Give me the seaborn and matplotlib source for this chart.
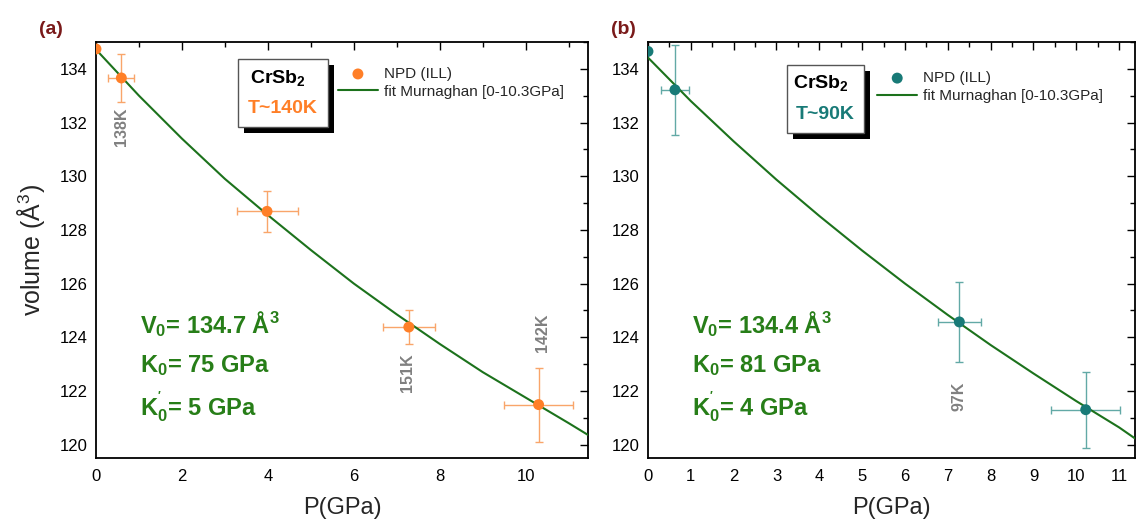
import numpy as np
import pandas as pd
import matplotlib
matplotlib.use('Agg')
import matplotlib.pyplot as plt
import matplotlib.patches as patches
from matplotlib.ticker import MultipleLocator
import seaborn as sns

# measured points (NPD, ILL)
p_140 = [0.0, 0.59, 3.98, 7.28, 10.30]
v_140 = [134.74, 133.66, 128.69, 124.38, 121.49]
perr_140 = [0.0, 0.30, 0.71, 0.61, 0.80]
verr_140 = [0.0, 0.89, 0.76, 0.65, 1.38]

p_90 = [0.0, 0.63, 7.27, 10.22]
v_90 = [134.65, 133.22, 124.57, 121.30]
perr_90 = [0.0, 0.33, 0.50, 0.80]
verr_90 = [0.0, 1.68, 1.50, 1.41]

# Murnaghan fit curves
fit_p_140 = [0, 1, 2, 3, 4, 5, 6, 7, 8, 9, 10, 11, 11.45]
fit_v_140 = [134.72, 133.00, 131.40, 129.90, 128.55, 127.25, 126.00, 124.85,
             123.75, 122.70, 121.75, 120.80, 120.36]
fit_p_90 = [0, 1, 2, 3, 4, 5, 6, 7, 8, 9, 10, 11, 11.37]
fit_v_90 = [134.42, 132.80, 131.30, 129.87, 128.52, 127.23, 126.00, 124.83,
            123.71, 122.65, 121.62, 120.64, 120.23]

# point labels (temperature at each pressure)
lab_140 = ['138K', '151K', '142K']
lab_140_pos = [(0.59, 131.85), (7.26, 122.67), (10.38, 124.15)]
lab_90 = ['97K']
lab_90_pos = [(7.27, 121.81)]

sns.set_theme(style='white')
plt.rcParams['font.family'] = ['Liberation Sans', 'DejaVu Sans']
plt.rcParams['mathtext.fontset'] = 'custom'
plt.rcParams['mathtext.rm'] = 'Liberation Sans'
plt.rcParams['mathtext.bf'] = 'Liberation Sans:bold'
plt.rcParams['mathtext.it'] = 'Liberation Sans:italic'

ORANGE = '#FF7F27'
ORANGE_ERR = '#F9A56A'
TEAL = '#187A77'
TEAL_ERR = '#62A9A6'
GREEN_LINE = '#1C721C'
GREEN_TXT = '#277E18'
GRAY = '#808080'
MAROON = '#7A1A1A'

fig = plt.figure(figsize=(11.36, 5.25), dpi=100)
ax1 = fig.add_axes([0.0845, 0.1276, 0.4331, 0.7924])
ax2 = fig.add_axes([0.5704, 0.1276, 0.4287, 0.7924])


def draw_panel(ax, p, v, perr, verr, fp, fv, col, ecol, temp, params,
               labels, label_pos, box, leg_anchor, xmax, xmajor, xminor):
    ax.errorbar(p, v, xerr=perr, yerr=verr, fmt='none', ecolor=ecol,
                elinewidth=1, capsize=3, capthick=1, zorder=2)
    sns.lineplot(x=fp, y=fv, ax=ax, color=GREEN_LINE, linewidth=1.5,
                 label='fit Murnaghan [0-10.3GPa]', zorder=3)
    sns.scatterplot(x=p, y=v, ax=ax, color=col, s=62, edgecolor='none',
                    label='NPD (ILL)', zorder=4, clip_on=True)

    ax.set_xlim(0, xmax)
    ax.set_ylim(119.5, 135.0)
    ax.xaxis.set_major_locator(MultipleLocator(xmajor))
    ax.xaxis.set_minor_locator(MultipleLocator(xminor))
    ax.yaxis.set_major_locator(MultipleLocator(2))
    ax.yaxis.set_minor_locator(MultipleLocator(1))
    ax.tick_params(which='both', direction='in', top=True, right=True,
                   colors='black', labelsize=12)
    ax.tick_params(which='major', length=6, width=1)
    ax.tick_params(which='minor', length=3.5, width=1)
    ax.tick_params(axis='x', pad=8)
    ax.tick_params(axis='y', pad=6)
    for s in ax.spines.values():
        s.set_color('black')
        s.set_linewidth(1.3)
    ax.set_xlabel('P(GPa)', fontsize=17, labelpad=9)
    ax.set_ylabel('')

    # legend entries
    handles, lbls = ax.get_legend_handles_labels()
    order = [1, 0]
    ax.legend([handles[i] for i in order], [lbls[i] for i in order],
              loc='upper left', bbox_to_anchor=leg_anchor, frameon=False,
              fontsize=11, handlelength=2.6, handletextpad=0.4,
              labelspacing=0.25, borderpad=0, borderaxespad=0)

    # sample box with shadow
    x0, y0, x1, y1 = box
    sx, sy = 6 / ax.bbox.width, 6 / ax.bbox.height
    ax.add_patch(patches.Rectangle((x0 + sx, y0 - sy), x1 - x0, y1 - y0,
                                   transform=ax.transAxes, facecolor='black',
                                   edgecolor='none', zorder=5))
    ax.add_patch(patches.Rectangle((x0, y0), x1 - x0, y1 - y0,
                                   transform=ax.transAxes, facecolor='white',
                                   edgecolor='#555555', linewidth=1, zorder=6))
    xc = (x0 + x1) / 2
    ax.text(xc - 0.01, y1 - 0.27 * (y1 - y0), r'CrSb$_\mathbf{2}$',
            transform=ax.transAxes, ha='center', va='center', fontsize=14,
            fontweight='bold', color='black', zorder=7)
    ax.text(xc, y0 + 0.27 * (y1 - y0), temp, transform=ax.transAxes,
            ha='center', va='center', fontsize=14, fontweight='bold',
            color=col, zorder=7)

    # fit parameters
    for i, t in enumerate(params):
        ax.text(0.09, 0.322 - i * 0.1, t, transform=ax.transAxes,
                ha='left', va='center', fontsize=17, fontweight='bold',
                color=GREEN_TXT)

    for t, (xp, yp) in zip(labels, label_pos):
        ax.text(xp, yp, t, rotation=90, ha='center', va='center',
                fontsize=11.5, fontweight='bold', color=GRAY)


draw_panel(ax1, p_140, v_140, perr_140, verr_140, fit_p_140, fit_v_140,
           ORANGE, ORANGE_ERR, 'T~140K',
           [r'V$_\mathbf{0}$= 134.7 Å$^\mathbf{3}$', r'K$_\mathbf{0}$= 75 GPa',
            r"K$_\mathbf{0}^\mathbf{'}$= 5 GPa"],
           lab_140, lab_140_pos, (0.288, 0.795, 0.472, 0.958),
           (0.492, 0.94), 11.45, 2, 1)
draw_panel(ax2, p_90, v_90, perr_90, verr_90, fit_p_90, fit_v_90,
           TEAL, TEAL_ERR, 'T~90K',
           [r'V$_\mathbf{0}$= 134.4 Å$^\mathbf{3}$', r'K$_\mathbf{0}$= 81 GPa',
            r"K$_\mathbf{0}^\mathbf{'}$= 4 GPa"],
           lab_90, lab_90_pos, (0.285, 0.781, 0.444, 0.945),
           (0.471, 0.93), 11.37, 1, 0.5)

ax1.set_ylabel('volume (Å$^3$)', fontsize=18, labelpad=9)

fig.text(0.034, 0.943, '(a)', fontsize=14, fontweight='bold', color=MAROON,
         ha='left', va='center')
fig.text(0.538, 0.943, '(b)', fontsize=14, fontweight='bold', color=MAROON,
         ha='left', va='center')

fig.savefig('out.png', dpi=100)
